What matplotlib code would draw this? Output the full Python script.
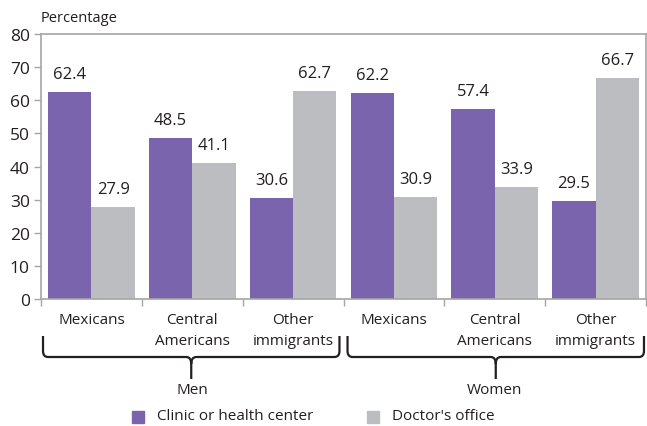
import numpy as np
import matplotlib
matplotlib.use('Agg')
import matplotlib.pyplot as plt
from matplotlib.path import Path
from matplotlib.patches import PathPatch, Rectangle

plt.rcParams['font.family'] = ['Open Sans', 'DejaVu Sans']

# Datos
grupos = ['Mexicans', 'Central\nAmericans', 'Other\nimmigrants',
          'Mexicans', 'Central\nAmericans', 'Other\nimmigrants']
clinica = [62.4, 48.5, 30.6, 62.2, 57.4, 29.5]
consultorio = [27.9, 41.1, 62.7, 30.9, 33.9, 66.7]
sexos = ['Men', 'Women']
series = ['Clinic or health center', "Doctor's office"]

morado = '#7B64AE'
gris = '#BCBDC0'
eje = '#A6A6A6'
texto = '#231F20'

W, H = 647, 427
fig = plt.figure(figsize=(W / 100, H / 100), dpi=100)
ax = fig.add_axes([41 / W, (H - 300) / H, 605 / W, 265 / H])

x = np.arange(len(grupos))
ancho = 0.43
ax.bar(x - ancho / 2, clinica, ancho, color=morado)
ax.bar(x + ancho / 2, consultorio, ancho, color=gris)

for i in range(len(grupos)):
    ax.text(x[i] - ancho / 2, clinica[i] + 3, f'{clinica[i]:.1f}',
            ha='center', va='bottom', fontsize=12, color=texto)
    ax.text(x[i] + ancho / 2, consultorio[i] + 3, f'{consultorio[i]:.1f}',
            ha='center', va='bottom', fontsize=12, color=texto)

ax.set_xlim(-0.5, len(grupos) - 0.5)
ax.set_ylim(0, 80)
ax.set_yticks(range(0, 81, 10))
ax.tick_params(axis='y', colors=eje, labelcolor=texto, labelsize=12.5,
               length=5, width=1, pad=3)
ax.set_xticks(np.arange(-0.5, len(grupos), 1))
ax.set_xticklabels([])
ax.tick_params(axis='x', colors=eje, length=5, width=1)
for s in ax.spines.values():
    s.set_color(eje)
    s.set_linewidth(1.2)

# Etiquetas de categoria
for i, g in enumerate(grupos):
    ax.text(x[i], -0.05, g, transform=ax.get_xaxis_transform(),
            ha='center', va='top', fontsize=11, color=texto, linespacing=1.5)

ax.text(0.0, 1.035, 'Percentage', transform=ax.transAxes,
        ha='left', va='bottom', fontsize=10.5, color=texto)

# Llaves debajo de los grupos
def fy(py):
    return (300 - py) / 265

tr = ax.get_xaxis_transform()
def llave(x0, x1):
    xc = (x0 + x1) / 2
    y_top, y_h, y_tip, y_end = fy(337), fy(358), fy(365), fy(380)
    r = 0.05
    ry = fy(352) - y_h
    verts = [
        (x0, y_top), (x0, y_h + ry), (x0, y_h), (x0 + r, y_h),
        (xc - r, y_h), (xc, y_h), (xc, y_tip),
        (xc, y_end),
        (xc, y_tip), (xc, y_h), (xc + r, y_h),
        (x1 - r, y_h), (x1, y_h), (x1, y_h + ry), (x1, y_top),
    ]
    codes = [Path.MOVETO, Path.LINETO, Path.CURVE3, Path.CURVE3,
             Path.LINETO, Path.CURVE3, Path.CURVE3,
             Path.LINETO,
             Path.MOVETO, Path.CURVE3, Path.CURVE3,
             Path.LINETO, Path.CURVE3, Path.CURVE3, Path.LINETO]
    p = PathPatch(Path(verts, codes), transform=tr, fill=False,
                  edgecolor=texto, linewidth=1.6, clip_on=False)
    ax.add_patch(p)

llave(-0.48, 2.46)
llave(2.54, 5.48)
ax.text(1, fy(383), sexos[0], transform=tr, ha='center', va='top',
        fontsize=11, color=texto)
ax.text(4, fy(383), sexos[1], transform=tr, ha='center', va='top',
        fontsize=11, color=texto)

# Leyenda
for px, color, nombre in [(132, morado, series[0]), (367, gris, series[1])]:
    fig.patches.append(Rectangle((px / W, (H - 424) / H), 12 / W, 12 / H,
                                 transform=fig.transFigure, color=color))
    fig.text((px + 25) / W, (H - 417) / H, nombre, ha='left', va='center',
             fontsize=11, color=texto)

plt.savefig('out.png', dpi=100)
